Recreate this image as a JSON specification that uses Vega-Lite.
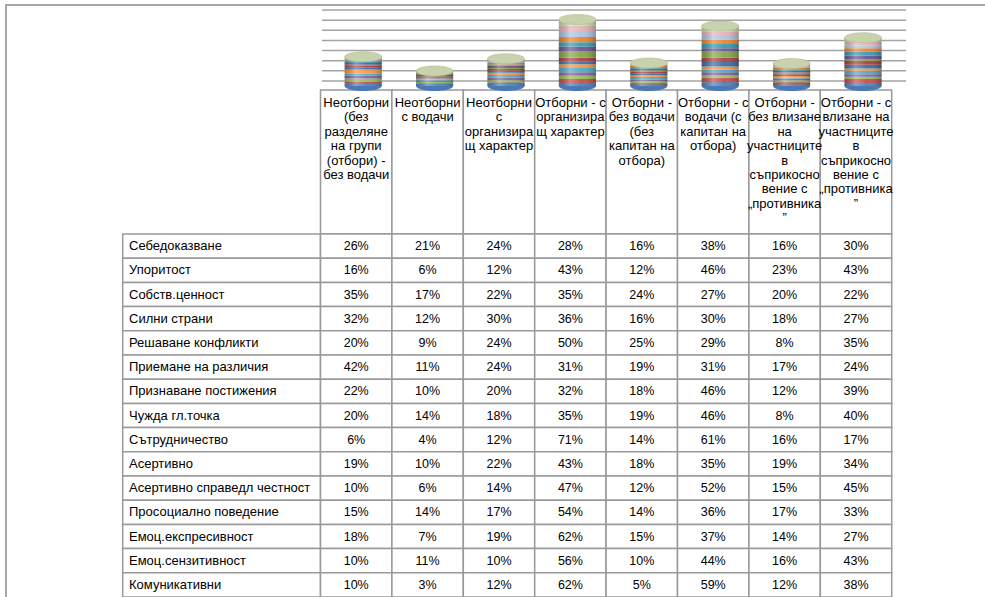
{
  "$schema": "https://vega.github.io/schema/vega-lite/v6.json",
  "width": 982,
  "height": 595,
  "autosize": {"type": "none"},
  "padding": {"left": 6, "top": 5, "right": -3, "bottom": -3},
  "background": "white",
  "config": {"view": {"stroke": "#a6a6a6", "strokeWidth": 2}, "font": "Liberation Sans"},
  "datasets": {
    "wide": [
      {"trait": "Себедоказване", "i": 1, "c1": 0.26, "c2": 0.21, "c3": 0.24, "c4": 0.28, "c5": 0.16, "c6": 0.38, "c7": 0.16, "c8": 0.30},
      {"trait": "Упоритост", "i": 2, "c1": 0.16, "c2": 0.06, "c3": 0.12, "c4": 0.43, "c5": 0.12, "c6": 0.46, "c7": 0.23, "c8": 0.43},
      {"trait": "Собств.ценност", "i": 3, "c1": 0.35, "c2": 0.17, "c3": 0.22, "c4": 0.35, "c5": 0.24, "c6": 0.27, "c7": 0.20, "c8": 0.22},
      {"trait": "Силни страни", "i": 4, "c1": 0.32, "c2": 0.12, "c3": 0.30, "c4": 0.36, "c5": 0.16, "c6": 0.30, "c7": 0.18, "c8": 0.27},
      {"trait": "Решаване конфликти", "i": 5, "c1": 0.20, "c2": 0.09, "c3": 0.24, "c4": 0.50, "c5": 0.25, "c6": 0.29, "c7": 0.08, "c8": 0.35},
      {"trait": "Приемане на различия", "i": 6, "c1": 0.42, "c2": 0.11, "c3": 0.24, "c4": 0.31, "c5": 0.19, "c6": 0.31, "c7": 0.17, "c8": 0.24},
      {"trait": "Признаване постижения", "i": 7, "c1": 0.22, "c2": 0.10, "c3": 0.20, "c4": 0.32, "c5": 0.18, "c6": 0.46, "c7": 0.12, "c8": 0.39},
      {"trait": "Чужда гл.точка", "i": 8, "c1": 0.20, "c2": 0.14, "c3": 0.18, "c4": 0.35, "c5": 0.19, "c6": 0.46, "c7": 0.08, "c8": 0.40},
      {"trait": "Сътрудничество", "i": 9, "c1": 0.06, "c2": 0.04, "c3": 0.12, "c4": 0.71, "c5": 0.14, "c6": 0.61, "c7": 0.16, "c8": 0.17},
      {"trait": "Асертивно", "i": 10, "c1": 0.19, "c2": 0.10, "c3": 0.22, "c4": 0.43, "c5": 0.18, "c6": 0.35, "c7": 0.19, "c8": 0.34},
      {"trait": "Асертивно справедл честност", "i": 11, "c1": 0.10, "c2": 0.06, "c3": 0.14, "c4": 0.47, "c5": 0.12, "c6": 0.52, "c7": 0.15, "c8": 0.45},
      {"trait": "Просоциално поведение", "i": 12, "c1": 0.15, "c2": 0.14, "c3": 0.17, "c4": 0.54, "c5": 0.14, "c6": 0.36, "c7": 0.17, "c8": 0.33},
      {"trait": "Емоц.експресивност", "i": 13, "c1": 0.18, "c2": 0.07, "c3": 0.19, "c4": 0.62, "c5": 0.15, "c6": 0.37, "c7": 0.14, "c8": 0.27},
      {"trait": "Емоц.сензитивност", "i": 14, "c1": 0.10, "c2": 0.11, "c3": 0.10, "c4": 0.56, "c5": 0.10, "c6": 0.44, "c7": 0.16, "c8": 0.43},
      {"trait": "Комуникативни", "i": 15, "c1": 0.10, "c2": 0.03, "c3": 0.12, "c4": 0.62, "c5": 0.05, "c6": 0.59, "c7": 0.12, "c8": 0.38}
    ],
    "headers": [
      {"cat": "c1", "lines": ["Неотборни", "(без", "разделяне", "на групи", "(отбори) -", "без водачи"]},
      {"cat": "c2", "lines": ["Неотборни", "с водачи"]},
      {"cat": "c3", "lines": ["Неотборни", "с", "организира", "щ характер"]},
      {"cat": "c4", "lines": ["Отборни - с", "организира", "щ характер"]},
      {"cat": "c5", "lines": ["Отборни  -", "без водачи", "(без", "капитан на", "отбора)"]},
      {"cat": "c6", "lines": ["Отборни - с", "водачи (с", "капитан на", "отбора)"]},
      {"cat": "c7", "lines": ["Отборни -", "без влизане", "на", "участниците", "в", "съприкосно", "вение с", "„противника", "”"]},
      {"cat": "c8", "lines": ["Отборни - с", "влизане на", "участниците", "в", "съприкосно", "вение с", "„противника", "”"]}
    ],
    "grid": [{"g": 0}, {"g": 1}, {"g": 2}, {"g": 3}, {"g": 4}, {"g": 5}, {"g": 6}, {"g": 7}]
  },
  "resolve": {"scale": {"x": "independent", "y": "independent", "color": "independent", "size": "independent", "shape": "independent"}},
  "layer": [
    {
      "data": {"name": "grid"},
      "mark": {"type": "rule", "color": "#a3a3a3", "strokeWidth": 1.5},
      "encoding": {
        "y": {"field": "g", "type": "quantitative", "scale": {"domain": [0, 7], "range": [76, 5], "nice": false, "zero": false}, "axis": null},
        "x": {"datum": 0, "type": "quantitative", "scale": {"domain": [0, 1], "range": [316, 900], "nice": false, "zero": false}, "axis": null},
        "x2": {"datum": 1}
      }
    },
    {
      "data": {"name": "headers"},
      "mark": {"type": "rect", "fill": "white", "stroke": "#999999", "strokeWidth": 1.5},
      "encoding": {
        "x": {"field": "cat", "type": "nominal", "scale": {"type": "band", "domain": ["c1","c2","c3","c4","c5","c6","c7","c8"], "range": [314.5, 885.7], "paddingInner": 0, "paddingOuter": 0}, "axis": null},
        "y": {"datum": 0, "type": "quantitative", "scale": {"domain": [0, 1], "range": [85, 229], "nice": false, "zero": false}, "axis": null},
        "y2": {"datum": 1}
      }
    },
    {
      "data": {"name": "headers"},
      "mark": {"type": "point", "filled": true, "opacity": 1, "fill": "#4a7ab5", "stroke": null, "size": 1376, "shape": "M-1,0A1,0.27,0,1,0,1,0A1,0.27,0,1,0,-1,0Z"},
      "encoding": {
        "x": {"field": "cat", "type": "nominal", "scale": {"type": "band", "domain": ["c1","c2","c3","c4","c5","c6","c7","c8"], "range": [321.5, 892.7], "paddingInner": 0.48, "paddingOuter": 0.24}, "axis": null},
        "y": {"datum": 0, "type": "quantitative", "scale": {"domain": [0, 7], "range": [81, 13], "nice": false, "zero": false}, "axis": null}
      }
    },
    {
      "data": {"name": "wide"},
      "transform": [{"fold": ["c1","c2","c3","c4","c5","c6","c7","c8"], "as": ["cat", "v"]}],
      "mark": {"type": "bar"},
      "encoding": {
        "x": {"field": "cat", "type": "nominal", "scale": {"type": "band", "domain": ["c1","c2","c3","c4","c5","c6","c7","c8"], "range": [321.5, 892.7], "paddingInner": 0.48, "paddingOuter": 0.24}, "axis": null},
        "y": {"field": "v", "type": "quantitative", "stack": "zero", "scale": {"domain": [0, 7], "range": [81, 13], "nice": false, "zero": false}, "axis": null},
        "color": {"field": "trait", "type": "nominal", "legend": null,
          "scale": {"domain": ["Себедоказване","Упоритост","Собств.ценност","Силни страни","Решаване конфликти","Приемане на различия","Признаване постижения","Чужда гл.точка","Сътрудничество","Асертивно","Асертивно справедл честност","Просоциално поведение","Емоц.експресивност","Емоц.сензитивност","Комуникативни"],
            "range": ["#4F81BD","#C0504D","#9BBB59","#8064A2","#4BACC6","#F79646","#3E6DA8","#A8423F","#86A64A","#6C5490","#3C98B2","#E8862F","#AFC3E3","#E3B3B6","#C9D6A8"]}},
        "order": {"field": "i", "type": "quantitative"}
      }
    },
    {
      "data": {"name": "wide"},
      "transform": [{"fold": ["c1","c2","c3","c4","c5","c6","c7","c8"], "as": ["cat", "v"]}],
      "mark": {"type": "bar", "fill": {"gradient": "linear", "x1": 0, "y1": 0, "x2": 1, "y2": 0, "stops": [{"offset": 0, "color": "rgba(0,0,0,0.18)"}, {"offset": 0.3, "color": "rgba(255,255,255,0.3)"}, {"offset": 0.6, "color": "rgba(255,255,255,0.05)"}, {"offset": 1, "color": "rgba(0,0,0,0.25)"}]}},
      "encoding": {
        "x": {"field": "cat", "type": "nominal", "scale": {"type": "band", "domain": ["c1","c2","c3","c4","c5","c6","c7","c8"], "range": [321.5, 892.7], "paddingInner": 0.48, "paddingOuter": 0.24}, "axis": null},
        "y": {"aggregate": "sum", "field": "v", "type": "quantitative", "scale": {"domain": [0, 7], "range": [81, 13], "nice": false, "zero": false}, "axis": null}
      }
    },
    {
      "data": {"name": "wide"},
      "transform": [{"fold": ["c1","c2","c3","c4","c5","c6","c7","c8"], "as": ["cat", "v"]}],
      "mark": {"type": "point", "filled": true, "opacity": 1, "fill": "#c8d2ac", "stroke": "#b3be94", "strokeWidth": 0.6, "size": 1376, "shape": "M-1,0A1,0.27,0,1,0,1,0A1,0.27,0,1,0,-1,0Z"},
      "encoding": {
        "x": {"field": "cat", "type": "nominal", "scale": {"type": "band", "domain": ["c1","c2","c3","c4","c5","c6","c7","c8"], "range": [321.5, 892.7], "paddingInner": 0.48, "paddingOuter": 0.24}, "axis": null},
        "y": {"aggregate": "sum", "field": "v", "type": "quantitative", "scale": {"domain": [0, 7], "range": [81, 13], "nice": false, "zero": false}, "axis": null}
      }
    },
    {
      "data": {"name": "headers"},
      "mark": {"type": "text", "align": "center", "baseline": "top", "fontSize": 13, "lineHeight": 14.4, "color": "black"},
      "encoding": {
        "x": {"field": "cat", "type": "nominal", "scale": {"type": "band", "domain": ["c1","c2","c3","c4","c5","c6","c7","c8"], "range": [314.5, 885.7], "paddingInner": 0, "paddingOuter": 0}, "axis": null},
        "y": {"datum": 0, "type": "quantitative", "scale": {"domain": [0, 1], "range": [92, 229], "nice": false, "zero": false}, "axis": null},
        "text": {"field": "lines"}
      }
    },
    {
      "data": {"name": "wide"},
      "mark": {"type": "rect", "fill": "white", "stroke": "#999999", "strokeWidth": 1.5},
      "encoding": {
        "x": {"datum": 0, "type": "quantitative", "scale": {"domain": [0, 1], "range": [116.7, 314.5], "nice": false, "zero": false}, "axis": null},
        "x2": {"datum": 1},
        "y": {"field": "trait", "type": "nominal", "sort": {"field": "i"}, "scale": {"type": "band", "range": [229, 592], "paddingInner": 0, "paddingOuter": 0}, "axis": null}
      }
    },
    {
      "data": {"name": "wide"},
      "mark": {"type": "text", "align": "left", "baseline": "middle", "fontSize": 13, "color": "black"},
      "encoding": {
        "x": {"datum": 0, "type": "quantitative", "scale": {"domain": [0, 1], "range": [123, 314.5], "nice": false, "zero": false}, "axis": null},
        "y": {"field": "trait", "type": "nominal", "sort": {"field": "i"}, "scale": {"type": "band", "range": [229, 592], "paddingInner": 0, "paddingOuter": 0}, "axis": null},
        "text": {"field": "trait"}
      }
    },
    {
      "data": {"name": "wide"},
      "transform": [{"fold": ["c1","c2","c3","c4","c5","c6","c7","c8"], "as": ["cat", "v"]}],
      "mark": {"type": "rect", "fill": "white", "stroke": "#999999", "strokeWidth": 1.5},
      "encoding": {
        "x": {"field": "cat", "type": "nominal", "scale": {"type": "band", "domain": ["c1","c2","c3","c4","c5","c6","c7","c8"], "range": [314.5, 885.7], "paddingInner": 0, "paddingOuter": 0}, "axis": null},
        "y": {"field": "trait", "type": "nominal", "sort": {"field": "i"}, "scale": {"type": "band", "range": [229, 592], "paddingInner": 0, "paddingOuter": 0}, "axis": null}
      }
    },
    {
      "data": {"name": "wide"},
      "transform": [{"fold": ["c1","c2","c3","c4","c5","c6","c7","c8"], "as": ["cat", "v"]}],
      "mark": {"type": "text", "align": "center", "baseline": "middle", "fontSize": 12.5, "color": "black"},
      "encoding": {
        "x": {"field": "cat", "type": "nominal", "scale": {"type": "band", "domain": ["c1","c2","c3","c4","c5","c6","c7","c8"], "range": [314.5, 885.7], "paddingInner": 0, "paddingOuter": 0}, "axis": null},
        "y": {"field": "trait", "type": "nominal", "sort": {"field": "i"}, "scale": {"type": "band", "range": [229, 592], "paddingInner": 0, "paddingOuter": 0}, "axis": null},
        "text": {"field": "v", "type": "quantitative", "format": ".0%"}
      }
    }
  ]
}
